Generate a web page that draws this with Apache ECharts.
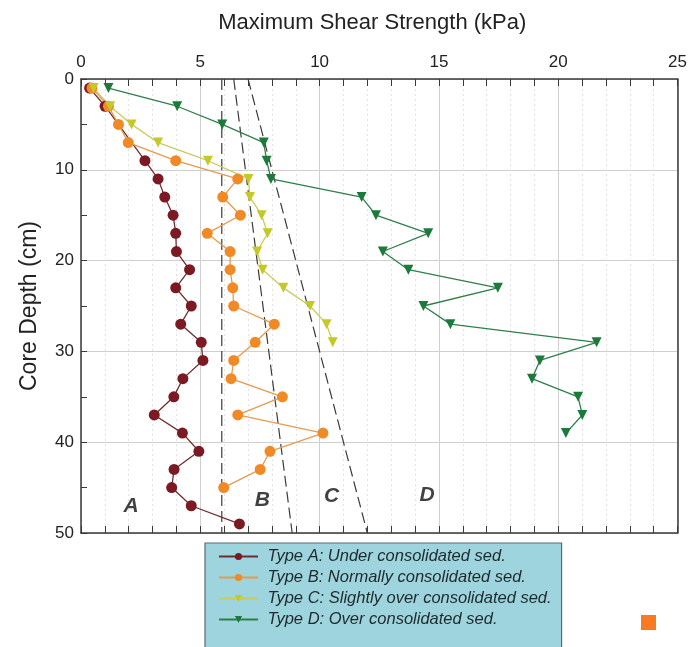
<!DOCTYPE html>
<html>
<head>
<meta charset="utf-8">
<script src="https://cdn.jsdelivr.net/npm/echarts@6/dist/echarts.min.js"></script>
<style>
html, body { margin: 0; padding: 0; background: #fff; }
#chart { width: 690px; height: 647px; }
</style>
</head>
<body>
<div id="chart"></div>
<script>
// depth (cm) and max shear strength (kPa)
var depthA = [1, 3, 9, 11, 13, 15, 17, 19, 21, 23, 25, 27, 29, 31, 33, 35, 37, 39, 41, 43, 45, 47, 49];
var strengthA = [0.36, 1.01, 2.68, 3.23, 3.51, 3.86, 3.97, 4.0, 4.55, 3.97, 4.62, 4.18, 5.04, 5.11, 4.27, 3.89, 3.07, 4.25, 4.94, 3.9, 3.8, 4.62, 6.64];

var depthB = [1, 3, 5, 7, 9, 11, 13, 15, 17, 19, 21, 23, 25, 27, 29, 31, 33, 35, 37, 39, 41, 43, 45];
var strengthB = [0.46, 1.15, 1.57, 1.98, 3.97, 6.57, 5.94, 6.68, 5.29, 6.25, 6.25, 6.36, 6.4, 8.1, 7.3, 6.4, 6.29, 8.44, 6.57, 10.14, 7.92, 7.51, 5.98];

var depthC = [1, 3, 5, 7, 9, 11, 13, 15, 17, 19, 21, 23, 25, 27, 29];
var strengthC = [0.53, 1.22, 2.12, 3.23, 5.32, 7.02, 7.08, 7.57, 7.82, 7.38, 7.61, 8.48, 9.6, 10.29, 10.55];

var depthD = [1, 3, 5, 7, 9, 11, 13, 15, 17, 19, 21, 23, 25, 27, 29, 31, 33, 35, 37, 39];
var strengthD = [1.15, 4.03, 5.92, 7.66, 7.78, 7.96, 11.76, 12.36, 14.55, 12.65, 13.72, 17.47, 14.35, 15.48, 21.61, 19.23, 18.9, 20.83, 21.01, 20.32];

// dashed boundaries between the types (top and bottom of the core)
var boundaryDepth = [0, 50];
var boundaryAB = [5.9, 5.9];
var boundaryBC = [6.4, 8.85];
var boundaryCD = [7.0, 12.0];

// region letters
var regionNames = ['A', 'B', 'C', 'D'];
var regionStrength = [2.1, 7.6, 10.5, 14.5];
var regionDepth = [47, 46.4, 46, 45.8];

var typeNames = [
	'Type A: Under consolidated sed.',
	'Type B: Normally consolidated sed.',
	'Type C: Slightly over consolidated sed.',
	'Type D: Over consolidated sed.'
];

function pairs(xs, ys) {
	var out = [];
	for (var i = 0; i < xs.length; i++) {
		out.push([xs[i], ys[i]]);
	}
	return out;
}

var FONT = 'Liberation Sans, Arial, sans-serif';

var myChart = echarts.init(document.getElementById('chart'));

//   data series
function typeSeries(name, xs, ys, color, lineColor, symbol) {
	var s = {
		name: name,
		type: 'line',
		data: pairs(xs, ys),
		symbol: symbol,
		symbolSize: symbol == 'circle' ? 11 : 10,
		itemStyle: { color: color },
		lineStyle: { color: lineColor, width: 1.3 },
		emphasis: { disabled: true },
		z: 5
	};
	if (symbol == 'triangle') {
		s.symbolRotate = 180;
	}
	return s;
}

function boundarySeries(xs) {
	return {
		type: 'line',
		data: pairs(xs, boundaryDepth),
		symbol: 'none',
		lineStyle: { color: '#3a3a3a', width: 1.2, type: [11, 5] },
		silent: true,
		z: 3
	};
}

var axisLineStyle = { color: '#3a3a3a', width: 1.5 };

var option = {
	animation: false,
	backgroundColor: '#fff',
	grid: { left: 81, right: 11, top: 79, bottom: 114 },
	xAxis: [{
		type: 'value',
		position: 'top',
		min: 0, max: 25, interval: 5,
		name: 'Maximum Shear Strength (kPa)',
		nameLocation: 'middle',
		nameGap: 45,
		nameTextStyle: { fontFamily: FONT, fontSize: 22, color: '#222', padding: [0, 14, 0, 0] },
		axisLine: { show: true, lineStyle: axisLineStyle },
		axisTick: { show: true, inside: true, length: 7, lineStyle: { color: '#3a3a3a' } },
		minorTick: { show: true, splitNumber: 5, length: 7, lineStyle: { color: '#3a3a3a' } },
		axisLabel: { fontFamily: FONT, fontSize: 17, color: '#222', margin: 8 },
		splitLine: { show: true, lineStyle: { color: '#cfcfcf', width: 1 } },
		minorSplitLine: { show: true, lineStyle: { color: '#e2e2e2', type: [2, 3] } }
	}, {
		type: 'value',
		position: 'bottom',
		min: 0, max: 25, interval: 5,
		axisLine: { show: true, onZero: false, lineStyle: axisLineStyle },
		axisTick: { show: true, inside: true, length: 7, lineStyle: { color: '#3a3a3a' } },
		minorTick: { show: true, splitNumber: 5, length: 7, lineStyle: { color: '#3a3a3a' } },
		axisLabel: { show: false },
		splitLine: { show: false }
	}],
	yAxis: [{
		type: 'value',
		inverse: true,
		min: 0, max: 50, interval: 10,
		name: 'Core Depth (cm)',
		nameLocation: 'middle',
		nameGap: 40,
		nameTextStyle: { fontFamily: FONT, fontSize: 23, color: '#222' },
		axisLine: { show: true, lineStyle: axisLineStyle },
		axisTick: { show: true, inside: true, length: 6, lineStyle: { color: '#3a3a3a' } },
		minorTick: { show: true, splitNumber: 2, length: 6, lineStyle: { color: '#3a3a3a' } },
		axisLabel: { fontFamily: FONT, fontSize: 17, color: '#222', margin: 7 },
		splitLine: { show: true, lineStyle: { color: '#cfcfcf', width: 1 } }
	}, {
		type: 'value',
		position: 'right',
		inverse: true,
		min: 0, max: 50, interval: 10,
		axisLine: { show: true, onZero: false, lineStyle: axisLineStyle },
		axisTick: { show: false },
		axisLabel: { show: false },
		splitLine: { show: false }
	}],
	legend: {
		data: typeNames,
		orient: 'vertical',
		left: 205,
		top: 543,
		height: 160,
		itemWidth: 39,
		itemHeight: 9,
		itemGap: 4,
		padding: [5, 10, 20, 13],
		backgroundColor: '#9dd4de',
		borderColor: '#5a6a6e',
		borderWidth: 1.2,
		selectedMode: false,
		formatter: function (n) { return ' ' + n; },
		textStyle: { fontFamily: FONT, fontSize: 16.5, fontStyle: 'italic', color: '#1e2a2c', lineHeight: 16 }
	},
	series: [
		boundarySeries(boundaryAB),
		boundarySeries(boundaryBC),
		boundarySeries(boundaryCD),
		typeSeries(typeNames[0], strengthA, depthA, '#7b1a22', '#6e2d30', 'circle'),
		typeSeries(typeNames[1], strengthB, depthB, '#f08a26', '#e69a4e', 'circle'),
		typeSeries(typeNames[2], strengthC, depthC, '#c5c928', '#c9cc5a', 'triangle'),
		typeSeries(typeNames[3], strengthD, depthD, '#1c7a3a', '#2f7f4b', 'triangle'),
		{
			//   region letters
			type: 'scatter',
			data: regionNames.map(function (n, i) {
				return { name: n, value: [regionStrength[i], regionDepth[i]] };
			}),
			symbolSize: 0,
			silent: true,
			label: {
				show: true,
				position: 'inside',
				formatter: '{b}',
				fontFamily: FONT,
				fontSize: 21,
				fontStyle: 'italic',
				fontWeight: 'bold',
				color: '#111'
			},
			z: 6
		}
	],
	graphic: [{
		type: 'rect',
		left: 641,
		top: 615,
		shape: { width: 15, height: 15 },
		style: { fill: '#f87a22' }
	}]
};

myChart.setOption(option);
</script>
</body>
</html>
